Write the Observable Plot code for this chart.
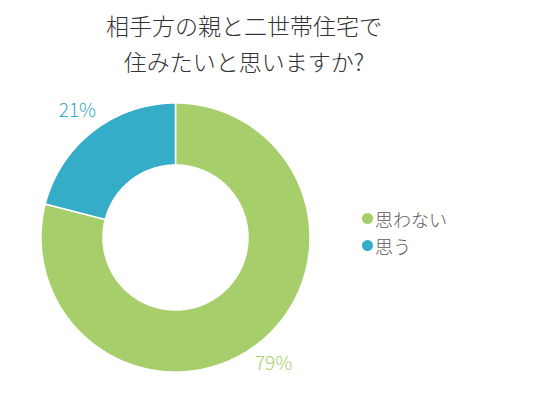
<!DOCTYPE html>
<html>
<head>
<meta charset="utf-8">
<script src="https://cdn.jsdelivr.net/npm/d3@7"></script>
<script src="https://cdn.jsdelivr.net/npm/@observablehq/plot@0.6"></script>
<style>
  body { margin: 0; background: #fff; font-family: "Noto Sans CJK JP", sans-serif; font-weight: 300; }
  #wrap { position: relative; width: 540px; height: 400px; }
  #title { position: absolute; left: 0; top: 7px; width: 488px; text-align: center;
           font-size: 23px; line-height: 36px; color: #333; font-weight: 300; }
  #chart { position: absolute; left: 0; top: 85px; }
  #legend { position: absolute; left: 362px; top: 205px; font-size: 18px; color: #595959; }
  #legend div { display: flex; align-items: center; height: 27px; }
  #legend span.dot { display: inline-block; width: 11px; height: 11px; border-radius: 50%; margin-right: 2px; }
</style>
</head>
<body>
<div id="wrap">
  <div id="title"></div>
  <div id="chart"></div>
  <div id="legend"></div>
</div>
<script>
// data
const titleLines = ["相手方の親と二世帯住宅で", "住みたいと思いますか?"]
const answers = ["思わない", "思う"]
const shares = [79, 21]
const colors = ["#a6ce6a", "#35acc8"]

d3.select('#title').selectAll('div').data(titleLines).join('div').text(d => d)

const data = answers.map((a, i) => ({answer: a, value: shares[i]}))

const rOuter = 134.5, rInner = 72.5, rLabel = 160

const arcs = d3.pie().sort(null).value(d => d.value)(data)

// arc outlines as polygons (angles clockwise from top)
let pts = []
arcs.forEach(a => {
  const n = Math.max(2, Math.ceil((a.endAngle - a.startAngle) / 0.01))
  const outer = d3.range(n + 1).map(k => a.startAngle + (a.endAngle - a.startAngle) * k / n)
  outer.forEach(t => pts.push({answer: a.data.answer, x: rOuter * Math.sin(t), y: rOuter * Math.cos(t)}))
  outer.slice().reverse().forEach(t => pts.push({answer: a.data.answer, x: rInner * Math.sin(t), y: rInner * Math.cos(t)}))
})

const labels = arcs.map(a => {
  const m = (a.startAngle + a.endAngle) / 2
  return {answer: a.data.answer, text: a.data.value + "%", x: rLabel * Math.sin(m), y: rLabel * Math.cos(m)}
})

let chart = Plot.plot({
  width: 540,
  height: 315,
  margin: 0,
  x: {domain: [-175, 365], axis: null},
  y: {domain: [-163, 152], axis: null},
  color: {domain: answers, range: colors},
  style: {fontFamily: '"Noto Sans CJK JP", sans-serif'},
  marks: [
    Plot.line(pts, {x: "x", y: "y", z: "answer", fill: "answer", stroke: "white", strokeWidth: 1.5, curve: "linear-closed"}),
    Plot.text(labels, {x: "x", y: "y", text: "text", fill: "answer", fontSize: 19, fontWeight: 300})
  ]
})

d3.select('#chart').append(() => chart)

const leg = d3.select('#legend').selectAll('div').data(answers).join('div')
leg.append('span').attr('class', 'dot').style('background', (d, i) => colors[i])
leg.append('span').text(d => d)
</script>
</body>
</html>
